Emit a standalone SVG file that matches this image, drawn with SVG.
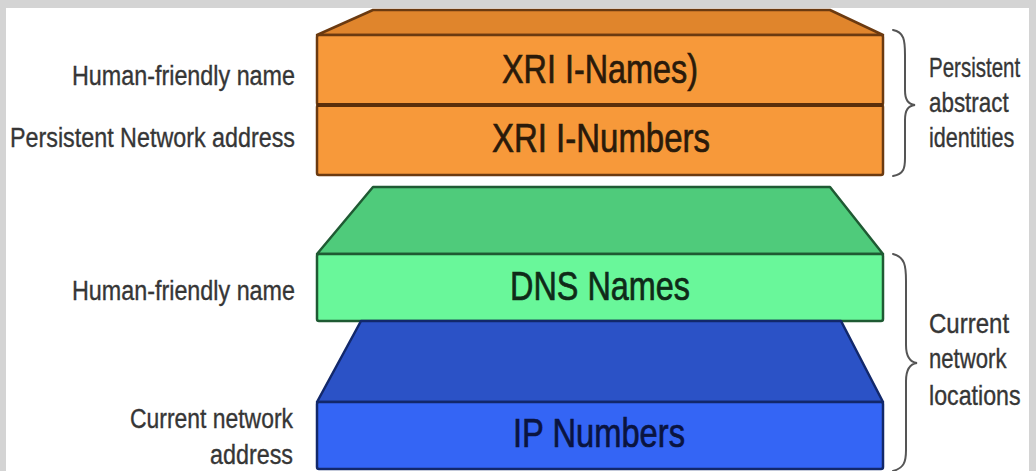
<svg xmlns="http://www.w3.org/2000/svg" width="1036" height="471" viewBox="0 0 1036 471">
  <style>
    .label { font-family: "Liberation Sans", Arial, sans-serif; font-size: 27px; fill: #363636; stroke: #363636; stroke-width: 0.35; }
    .main { font-family: "Liberation Sans", Arial, sans-serif; font-size: 41px; stroke-width: 0.7; }
    .brace { fill: none; stroke: #555; stroke-width: 2; stroke-linecap: round; }
    .xri-top { fill: #E0852C; stroke: #6B3A10; stroke-width: 2.5; stroke-linejoin: round; }
    .xri-face { fill: #F7993A; stroke: #6B3A10; stroke-width: 2.5; }
    .dns-top { fill: #4FCB7B; stroke: #1F5A33; stroke-width: 2.5; stroke-linejoin: round; }
    .dns-face { fill: #69F79A; stroke: #1F5A33; stroke-width: 2.5; }
    .ip-top { fill: #2B52C6; stroke: #12286B; stroke-width: 2.5; stroke-linejoin: round; }
    .ip-face { fill: #3465F5; stroke: #12286B; stroke-width: 2.5; }
  </style>

  <!-- frame -->
  <rect x="0" y="0" width="1036" height="471" fill="#D4D4D4"/>
  <rect x="6" y="8" width="1023" height="463" fill="#FFFFFF"/>

  <!-- XRI slab: top face plus two stacked front bands -->
  <g id="xri-slab">
    <polygon class="xri-top" points="373,10 830,10 883,35 317,35"/>
  </g>
  <g id="xri-inames">
    <rect class="xri-face" x="317" y="35" width="566" height="70" rx="2"/>
    <text class="main" x="502" y="83" textLength="196" lengthAdjust="spacingAndGlyphs" fill="#2A1A0A" stroke="#2A1A0A">XRI I-Names)</text>
  </g>
  <g id="xri-inumbers">
    <rect class="xri-face" x="317" y="105" width="566" height="70" rx="2"/>
    <line x1="317" y1="105" x2="883" y2="105" stroke="#5A2E0A" stroke-width="4"/>
    <text class="main" x="492" y="152" textLength="218" lengthAdjust="spacingAndGlyphs" fill="#2A1A0A" stroke="#2A1A0A">XRI I-Numbers</text>
  </g>

  <!-- DNS slab -->
  <g id="dns-names">
    <polygon class="dns-top" points="373,187 830,187 883,254 317,254"/>
    <rect class="dns-face" x="317" y="254" width="566" height="67" rx="2"/>
    <text class="main" x="510" y="300" textLength="180" lengthAdjust="spacingAndGlyphs" fill="#0F2A18" stroke="#0F2A18">DNS Names</text>
  </g>

  <!-- IP slab -->
  <g id="ip-numbers">
    <polygon class="ip-top" points="361,321 841,321 883,402 317,402"/>
    <rect class="ip-face" x="317" y="402" width="566" height="67" rx="2"/>
    <text class="main" x="513" y="447" textLength="172" lengthAdjust="spacingAndGlyphs" fill="#0A1440" stroke="#0A1440">IP Numbers</text>
  </g>

  <!-- left-hand descriptions -->
  <g id="left-labels">
    <text class="label" x="72" y="85" textLength="223" lengthAdjust="spacingAndGlyphs">Human-friendly name</text>
    <text class="label" x="10" y="147" textLength="285" lengthAdjust="spacingAndGlyphs">Persistent Network address</text>
    <text class="label" x="72" y="300" textLength="223" lengthAdjust="spacingAndGlyphs">Human-friendly name</text>
    <text class="label" x="130" y="428" textLength="163" lengthAdjust="spacingAndGlyphs">Current network</text>
    <text class="label" x="210" y="464" textLength="83" lengthAdjust="spacingAndGlyphs">address</text>
  </g>

  <!-- braces grouping the layers -->
  <g id="braces">
    <path class="brace" d="M893,30 C904,32 905,40 905,55 L905,90 C905,100 908,104 915,105 C908,106 905,110 905,120 L905,158 C905,168 904,174 893,176"/>
    <path class="brace" d="M893,254 C905,257 906,266 906,281 L906,345 C906,357 910,362 917,363 C910,364 906,369 906,381 L906,450 C906,462 904,468 893,471"/>
  </g>

  <!-- right-hand descriptions (horizontally condensed) -->
  <g id="right-labels">
    <text class="label" transform="translate(929,77) scale(0.76,1)">Persistent</text>
    <text class="label" transform="translate(929,112) scale(0.83,1)">abstract</text>
    <text class="label" transform="translate(929,147) scale(0.8,1)">identities</text>
    <text class="label" transform="translate(929,333) scale(0.89,1)">Current</text>
    <text class="label" transform="translate(929,368) scale(0.82,1)">network</text>
    <text class="label" transform="translate(929,405) scale(0.86,1)">locations</text>
  </g>
</svg>
